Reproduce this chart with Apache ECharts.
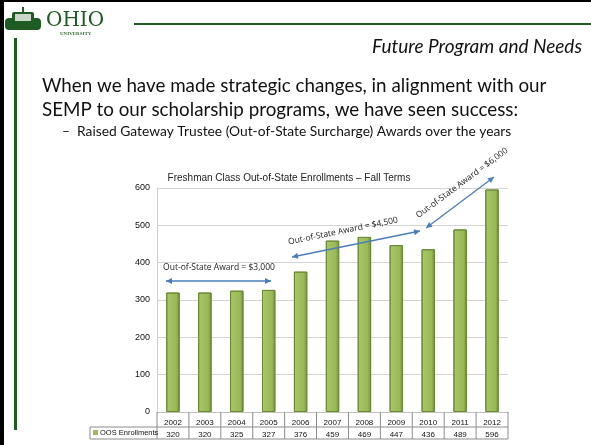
<!DOCTYPE html>
<html>
<head>
<meta charset="utf-8">
<script src="https://cdn.jsdelivr.net/npm/echarts@6/dist/echarts.min.js"></script>
<style>
  html, body { margin: 0; padding: 0; background: #fff; }
  #chart { width: 591px; height: 445px; }
</style>
</head>
<body>
<div id="chart"></div>
<script>
// chart data
const years = ['2002', '2003', '2004', '2005', '2006', '2007', '2008', '2009', '2010', '2011', '2012'];
const oosEnrollments = [320, 320, 325, 327, 376, 459, 469, 447, 436, 489, 596];
const yTicks = [0, 100, 200, 300, 400, 500, 600];
const seriesName = 'OOS Enrollments';

const chartTitle = 'Freshman Class Out-of-State Enrollments \u2013 Fall Terms';
const slideTitle = 'Future Program and Needs';
const bodyLines = [
  'When we have made strategic changes, in alignment with our',
  'SEMP to our scholarship programs, we have seen success:'
];
const subBullet = '\u2013  Raised Gateway Trustee (Out-of-State Surcharge) Awards over the years';

const green = '#1f5c23';
const barGreen = '#9bbb59';
const slideFont = 'Lato, "Open Sans", sans-serif';

const myChart = echarts.init(document.getElementById('chart'));

// arrow helper: line with heads at both ends
const arrow = (x1, y1, x2, y2) => {
  const a = Math.atan2(y2 - y1, x2 - x1);
  const head = (x, y, ang) => {
    const L = 6, W = 3;
    return {
      type: 'polygon',
      shape: { points: [
        [x, y],
        [x - L * Math.cos(ang) + W * Math.sin(ang), y - L * Math.sin(ang) - W * Math.cos(ang)],
        [x - L * Math.cos(ang) - W * Math.sin(ang), y - L * Math.sin(ang) + W * Math.cos(ang)]
      ] },
      style: { fill: '#4a7ebb' }, z: 20
    };
  };
  return [
    { type: 'line', shape: { x1, y1, x2, y2 }, style: { stroke: '#4a7ebb', lineWidth: 1.3 }, z: 20 },
    head(x2, y2, a),
    head(x1, y1, a + Math.PI)
  ];
};

const label = (text, x, y, rot) => ({
  type: 'text', x, y, rotation: rot || 0, z: 21,
  style: { text, fill: '#222', font: '8.5px "Open Sans", Lato, sans-serif', textAlign: 'center', textVerticalAlign: 'middle' }
});

let option = {
  animation: false,
  title: {
    text: chartTitle,
    left: 284, top: 168, textAlign: 'center',
    textStyle: { fontSize: 10, fontWeight: 'normal', color: '#222', fontFamily: 'Arial, "Liberation Sans", sans-serif' }
  },
  grid: { left: 157, right: 83, top: 188, bottom: 33 },
  xAxis: [
    {
      type: 'category', data: years, position: 'bottom',
      axisLine: { lineStyle: { color: '#bfbfbf' } },
      axisTick: { show: false },
      axisLabel: { fontSize: 8, color: '#111', margin: 7, fontFamily: 'Arial, sans-serif' }
    },
    {
      type: 'category', data: oosEnrollments.map(String), position: 'bottom', offset: 12,
      axisLine: { show: false }, axisTick: { show: false },
      axisLabel: { fontSize: 8, color: '#111', margin: 7, fontFamily: 'Arial, sans-serif' }
    }
  ],
  yAxis: {
    type: 'value', min: yTicks[0], max: yTicks[yTicks.length - 1], interval: 100,
    axisLine: { show: true, lineStyle: { color: '#d0d0d0' } },
    axisTick: { show: false },
    axisLabel: { fontSize: 9, color: '#111', margin: 7, fontFamily: 'Arial, sans-serif' },
    splitLine: { lineStyle: { color: '#d4d4d4' } }
  },
  series: [{
    name: seriesName,
    type: 'bar',
    data: oosEnrollments,
    barWidth: '42%',
    itemStyle: {
      color: new echarts.graphic.LinearGradient(0, 0, 1, 0, [
        { offset: 0, color: '#a9c86a' },
        { offset: 0.75, color: '#98b956' },
        { offset: 1, color: '#6f8d34' }
      ]),
      borderColor: '#6d8a35',
      borderWidth: 1
    }
  }]
};
myChart.setOption(option);

// table + annotations, positioned from the axes
const yTop = myChart.convertToPixel({ yAxisIndex: 0 }, 0);
const x0 = 157, x1 = 508;
const step = (x1 - x0) / years.length;
const rowA = yTop + 15, rowB = yTop + 27;
const tbl = [];
const hl = (xa, xb, y) => tbl.push({ type: 'line', shape: { x1: xa, y1: y, x2: xb, y2: y }, style: { stroke: '#8c8c8c', lineWidth: 1 }, z: 10 });
const vl = (x, ya, yb) => tbl.push({ type: 'line', shape: { x1: x, y1: ya, x2: x, y2: yb }, style: { stroke: '#8c8c8c', lineWidth: 1 }, z: 10 });
hl(x0, x1, rowA);
hl(90, x1, rowB);
hl(90, x0, rowA);
for (let i = 0; i <= years.length; i++) vl(x0 + i * step, yTop, rowB);
vl(90, rowA, rowB);
tbl.push({ type: 'rect', shape: { x: 93, y: rowA + 3, width: 5, height: 5 }, style: { fill: barGreen }, z: 11 });
tbl.push({ type: 'text', x: 100, y: rowA + 6, z: 11, style: { text: seriesName, fill: '#111', font: '7.5px Arial, sans-serif', textVerticalAlign: 'middle' } });

// slide decoration
const slide = [
  { type: 'rect', shape: { x: 0, y: 0, width: 591, height: 2 }, style: { fill: '#000' } },
  { type: 'rect', shape: { x: 0, y: 0, width: 4, height: 445 }, style: { fill: '#000' } },
  { type: 'rect', shape: { x: 14, y: 38, width: 3, height: 392 }, style: { fill: green } },
  { type: 'rect', shape: { x: 134, y: 23, width: 457, height: 2 }, style: { fill: green } },
  // logo emblem
  { type: 'rect', shape: { x: 5, y: 18, width: 36, height: 12, r: 4 }, style: { fill: green } },
  { type: 'rect', shape: { x: 12, y: 12, width: 22, height: 8, r: 2 }, style: { fill: green } },
  { type: 'rect', shape: { x: 15, y: 14, width: 16, height: 7 }, style: { fill: '#c9d6c9' } },
  { type: 'rect', shape: { x: 22, y: 7, width: 2, height: 6 }, style: { fill: green } },
  { type: 'text', x: 46, y: 21, style: { text: 'OHIO', fill: green, font: '20px "DejaVu Serif", "Liberation Serif", serif', textVerticalAlign: 'middle' } },
  { type: 'text', x: 60, y: 34, style: { text: 'UNIVERSITY', fill: '#3a6a3a', font: 'bold 5px "Liberation Serif", serif', textVerticalAlign: 'middle' } },
  { type: 'text', x: 582, y: 47, style: { text: slideTitle, fill: '#111', font: 'italic 19px ' + slideFont, textAlign: 'right', textVerticalAlign: 'middle' } },
  { type: 'text', x: 42, y: 86, style: { text: bodyLines[0], fill: '#111', font: '18.8px ' + slideFont, textVerticalAlign: 'middle' } },
  { type: 'text', x: 42, y: 110, style: { text: bodyLines[1], fill: '#111', font: '18.8px ' + slideFont, textVerticalAlign: 'middle' } },
  { type: 'text', x: 62, y: 132, style: { text: subBullet, fill: '#111', font: '13.8px ' + slideFont, textVerticalAlign: 'middle' } }
];

const notes = [].concat(
  arrow(166, 281, 271, 281),
  [label('Out-of-State Award = $3,000', 219, 268)],
  arrow(292, 257, 420, 231),
  [label('Out-of-State Award = $4,500', 343, 231, Math.atan2(26, 128))],
  arrow(426, 228, 494, 177),
  [label('Out-of-State Award = $6,000', 462, 183, Math.atan2(60, 81))]
);

myChart.setOption({ graphic: { elements: slide.concat(tbl, notes) } });
</script>
</body>
</html>
